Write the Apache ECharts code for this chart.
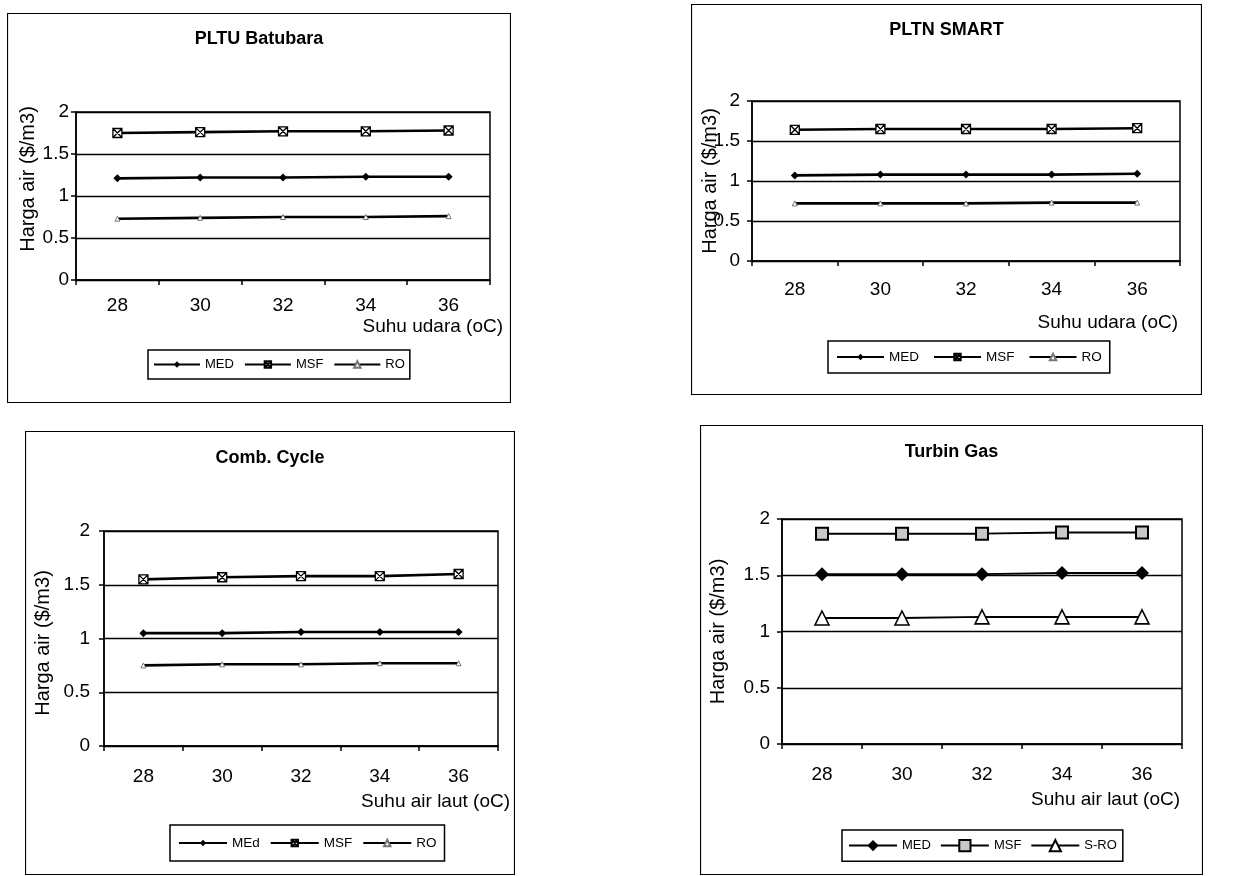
<!DOCTYPE html>
<html><head><meta charset="utf-8">
<script src="https://cdn.jsdelivr.net/npm/echarts@6/dist/echarts.min.js"></script>
<style>
html,body{margin:0;padding:0;background:#fff;width:1256px;height:876px;overflow:hidden;}
.p{position:absolute;}
</style></head><body>
<div id="c1" class="p"></div>
<div id="c2" class="p"></div>
<div id="c3" class="p"></div>
<div id="c4" class="p"></div>
<script>
// ---- data ----
const temps = ['28', '30', '32', '34', '36'];
const pltuMED = [1.21, 1.22, 1.22, 1.23, 1.23];
const pltuMSF = [1.75, 1.76, 1.77, 1.77, 1.78];
const pltuRO  = [0.73, 0.74, 0.75, 0.75, 0.76];
const smartMED = [1.07, 1.08, 1.08, 1.08, 1.09];
const smartMSF = [1.64, 1.65, 1.65, 1.65, 1.66];
const smartRO  = [0.72, 0.72, 0.72, 0.73, 0.73];
const ccMED = [1.05, 1.05, 1.06, 1.06, 1.06];
const ccMSF = [1.55, 1.57, 1.58, 1.58, 1.60];
const ccRO  = [0.75, 0.76, 0.76, 0.77, 0.77];
const tgMED = [1.51, 1.51, 1.51, 1.52, 1.52];
const tgMSF = [1.87, 1.87, 1.87, 1.88, 1.88];
const tgSRO = [1.12, 1.12, 1.13, 1.13, 1.13];
const titles = ['PLTU Batubara', 'PLTN SMART', 'Comb. Cycle', 'Turbin Gas'];
const xNames = ['Suhu udara (oC)', 'Suhu udara (oC)', 'Suhu air laut (oC)', 'Suhu air laut (oC)'];
const yName = 'Harga air ($/m3)';

// ---- styles ----
const FONT = '"Liberation Sans", Arial, Helvetica, sans-serif';
const K = '#000';
const XSQ = 'path://M0,0H10V10H0ZM0,0L10,10M10,0L0,10';

function sMed(name, data) {
  return {name, type: 'line', data, symbol: 'diamond', symbolSize: 8,
    lineStyle: {color: K, width: 2.6}, itemStyle: {color: K}};
}
function sMsf(name, data) {
  return {name, type: 'line', data, symbol: XSQ, symbolSize: 9,
    lineStyle: {color: K, width: 2.6}, itemStyle: {color: '#fff', borderColor: K, borderWidth: 1.3}};
}
function sRo(name, data) {
  return {name, type: 'line', data, symbol: 'triangle', symbolSize: 5,
    lineStyle: {color: K, width: 2.6}, itemStyle: {color: '#fff', borderColor: '#777', borderWidth: 1}};
}

const panels = [
  {id: 'c1', frame: [7, 13, 504, 390], grid: [76, 112, 490, 280], titleTop: 17,
   xMargin: 16, yMargin: 7, yNameGap: 38, yNamePad: [0, 0, 0, 34], xNameGap: 13, xNamePad: 37,
   legend: {box: [148, 350], pad: [8, 5], w: 46, h: 8, gap: 10, fs: 13},
   series: [sMed('MED', pltuMED), sMsf('MSF', pltuMSF), sRo('RO', pltuRO)]},
  {id: 'c2', frame: [691, 4, 511, 391], grid: [752, 101, 1180, 261], titleTop: 17,
   xMargin: 19, yMargin: 12, yNameGap: 32, yNamePad: [0, 0, 0, 0], xNameGap: -2, xNamePad: 52,
   legend: {box: [828, 341], pad: [9, 8], w: 47, h: 8, gap: 14, fs: 13.5},
   series: [sMed('MED', smartMED), sMsf('MSF', smartMSF), sRo('RO', smartRO)]},
  {id: 'c3', frame: [25, 431, 490, 444], grid: [104, 531, 498, 746], titleTop: 18,
   xMargin: 21, yMargin: 14, yNameGap: 51, yNamePad: [0, 9, 0, 0], xNameGap: 12, xNamePad: 46,
   legend: {box: [170, 825], pad: [11, 8], w: 48, h: 8, gap: 10, fs: 13.5},
   series: [sMed('MEd', ccMED), sMsf('MSF', ccMSF), sRo('RO', ccRO)]},
  {id: 'c4', frame: [700, 425, 503, 450], grid: [782, 519, 1182, 744], titleTop: 18,
   xMargin: 21, yMargin: 12, yNameGap: 54, yNamePad: [0, 0, 0, 0], xNameGap: -2, xNamePad: 46,
   legend: {box: [842, 830], pad: [9, 6], w: 48, h: 14, gap: 9, fs: 13},
   series: [
     {name: 'MED', type: 'line', data: tgMED, symbol: 'diamond', symbolSize: 14,
      lineStyle: {color: K, width: 2}, itemStyle: {color: K}},
     {name: 'MSF', type: 'line', data: tgMSF, symbol: 'rect', symbolSize: 12,
      lineStyle: {color: K, width: 2}, itemStyle: {color: '#c8c8c8', borderColor: K, borderWidth: 2}},
     {name: 'S-RO', type: 'line', data: tgSRO, symbol: 'triangle', symbolSize: 14,
      lineStyle: {color: K, width: 2}, itemStyle: {color: '#fff', borderColor: K, borderWidth: 1.6}}
   ]}
];

panels.forEach((p, i) => {
  const el = document.getElementById(p.id);
  const [fx, fy, fw, fh] = p.frame;
  el.style.left = fx + 'px'; el.style.top = fy + 'px';
  el.style.width = fw + 'px'; el.style.height = fh + 'px';
  const chart = echarts.init(el, null, {renderer: 'canvas'});
  const [gl, gt, gr, gb] = p.grid;
  const lg = p.legend;
  chart.setOption({
    animation: false,
    backgroundColor: 'transparent',
    textStyle: {fontFamily: FONT, color: K},
    title: {text: titles[i], left: 'center', top: p.titleTop, padding: 0,
      textStyle: {fontFamily: FONT, fontSize: 18, fontWeight: 'bold', color: K}},
    legend: {left: lg.box[0] - fx, top: lg.box[1] - fy, orient: 'horizontal',
      padding: lg.pad, itemWidth: lg.w, itemHeight: lg.h, itemGap: lg.gap,
      borderColor: K, borderWidth: 1.5, borderRadius: 0, backgroundColor: '#fff',
      textStyle: {fontFamily: FONT, fontSize: lg.fs, color: K},
      data: p.series.map(s => s.name)},
    grid: {left: gl - fx, top: gt - fy, width: gr - gl, height: gb - gt,
      containLabel: false, outerBoundsMode: 'none', show: true, borderColor: K, borderWidth: 1.5},
    graphic: [{type: 'rect', silent: true, z: -10,
      shape: {x: 0.5, y: 0.5, width: fw - 1, height: fh - 1},
      style: {fill: 'transparent', stroke: K, lineWidth: 1.2}}],
    xAxis: {type: 'category', data: temps, boundaryGap: true,
      name: xNames[i], nameLocation: 'end', nameGap: p.xNameGap, nameMoveOverlap: false,
      nameTextStyle: {fontFamily: FONT, fontSize: 19, color: K, align: 'right', verticalAlign: 'top',
        padding: [p.xNamePad, 0, 0, 0]},
      axisLine: {show: true, lineStyle: {color: K, width: 1.5}},
      axisTick: {show: true, inside: false, length: 5, alignWithLabel: false, lineStyle: {color: K, width: 1.5}},
      axisLabel: {show: true, fontFamily: FONT, fontSize: 19, color: K, margin: p.xMargin},
      splitLine: {show: false}},
    yAxis: {type: 'value', min: 0, max: 2, interval: 0.5,
      name: yName, nameLocation: 'middle', nameRotate: 90, nameGap: p.yNameGap, nameMoveOverlap: false,
      nameTextStyle: {fontFamily: FONT, fontSize: 20, color: K, padding: p.yNamePad},
      axisLine: {show: true, lineStyle: {color: K, width: 1.5}},
      axisTick: {show: true, inside: false, length: 5, lineStyle: {color: K, width: 1.5}},
      axisLabel: {show: true, fontFamily: FONT, fontSize: 19, color: K, margin: p.yMargin},
      splitLine: {show: true, lineStyle: {color: K, width: 1.3}}},
    series: p.series
  });
});
</script>
</body></html>
